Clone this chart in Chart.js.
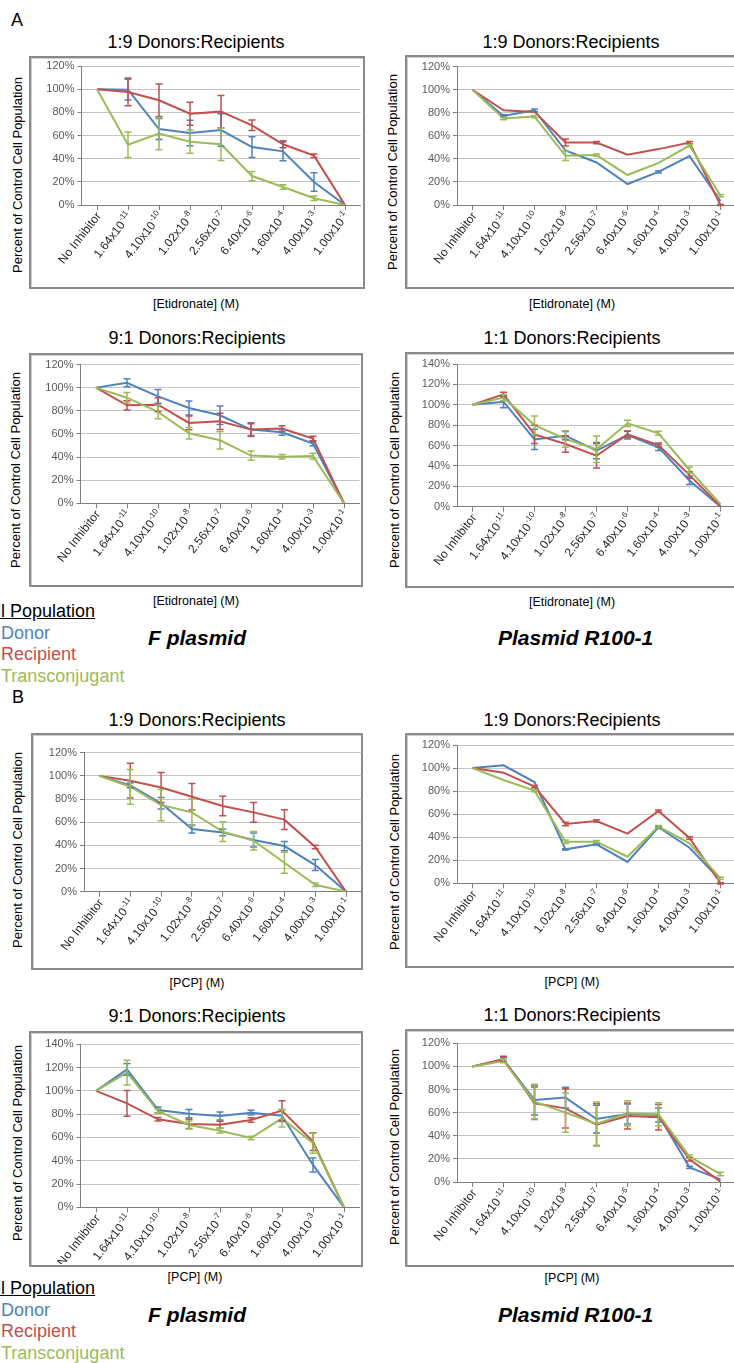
<!DOCTYPE html>
<html>
<head>
<meta charset="utf-8">
<script src="https://cdn.jsdelivr.net/npm/chart.js@4.4.0/dist/chart.umd.min.js"></script>
<style>
  html, body { margin: 0; padding: 0; background: #fff; }
  #fig { position: relative; width: 734px; height: 1363px; overflow: hidden;
         font-family: "Liberation Sans", Arial, sans-serif; color: #000; }
  .t { position: absolute; white-space: nowrap; line-height: 1; }
  .frame { position: absolute; box-sizing: border-box; border: 2px solid #8a8a8a;
           box-shadow: inset 1px 1px 0 #d0d0d0; }
  canvas { position: absolute; }
</style>
</head>
<body>
<div id="fig"></div>
<script>
// Concentration categories (mantissa + power-of-ten exponent)
const concLabels = ['No Inhibitor', '1.64x10', '4.10x10', '1.02x10', '2.56x10', '6.40x10', '1.60x10', '4.00x10', '1.00x10'];
const concExponents = ['', '-11', '-10', '-8', '-7', '-6', '-4', '-3', '-1'];
const seriesNames = ['Donor', 'Recipient', 'Transconjugant'];

// A: Etidronate, F plasmid, 1:9 donors:recipients
const etiF19Donor = [100, 99.6, 65.6, 62.2, 64.7, 50, 46.3, 19.9, 0];
const etiF19DonorErr = [0, 9, 9, 11, 14, 9, 8, 8, 0];
const etiF19Recipient = [100, 97.6, 90.4, 78.8, 80.6, 68.8, 52.4, 42.6, 0];
const etiF19RecipientErr = [0, 12, 14, 10, 14, 4.5, 3, 1.5, 0];
const etiF19Trans = [100, 52.1, 61.6, 54.7, 52.4, 25, 15.5, 5.8, 0];
const etiF19TransErr = [0, 11, 14, 10, 14, 4, 2, 2, 0];

// A: Etidronate, plasmid R100-1, 1:9
const etiR19Donor = [100, 77.3, 82.2, 47.3, 36.9, 18.2, 28.8, 42.4, 3.5];
const etiR19DonorErr = [0, 1, 1, 0, 0, 0, 1, 0, 0];
const etiR19Recipient = [100, 82.2, 80.8, 54.2, 54.2, 43.6, 48.5, 54.2, 0];
const etiR19RecipientErr = [0, 0, 0, 3, 1, 0, 0, 1, 0.5];
const etiR19Trans = [100, 75, 76.7, 42.7, 43.3, 26, 36.6, 51.6, 8.1];
const etiR19TransErr = [0, 1, 1, 4, 1, 0, 0, 1, 1];

// A: Etidronate, F plasmid, 9:1
const etiF91Donor = [100, 104.2, 92.4, 82.4, 76.1, 63.7, 61.4, 51.7, 0];
const etiF91DonorErr = [0, 3.5, 6, 6, 8, 6, 2.5, 2, 0];
const etiF91Recipient = [100, 84.7, 85.3, 69.5, 70.9, 63.7, 64.6, 56, 0];
const etiF91RecipientErr = [0, 4, 6, 6, 7, 5, 2.5, 2, 0];
const etiF91Trans = [100, 91.3, 79, 60.6, 54.5, 41.3, 40.2, 40.8, 0];
const etiF91TransErr = [0, 4.5, 6, 5, 7.5, 4, 2, 2.5, 0];

// A: Etidronate, plasmid R100-1, 1:1
const etiR11Donor = [100, 103, 66, 69.7, 55, 70.3, 58.2, 25.8, 0];
const etiR11DonorErr = [0, 6, 10, 4, 8, 4, 3, 4, 0];
const etiR11Recipient = [100, 110.2, 71, 61.5, 50, 71, 60.5, 31, 0.5];
const etiR11RecipientErr = [0, 2, 9, 8, 12, 3, 2, 3, 0];
const etiR11Trans = [100, 107, 80.1, 66.4, 56.3, 81.8, 72, 36, 2.6];
const etiR11TransErr = [0, 3, 9, 8, 13, 3, 2, 3, 0];

// B: PCP, F plasmid, 1:9
const pcpF19Donor = [100, 91.8, 76.3, 54.1, 51.2, 44.6, 39.4, 23, 0];
const pcpF19DonorErr = [0, 2, 5, 3.5, 3, 6, 4, 4.7, 0];
const pcpF19Recipient = [100, 95.8, 90, 82, 74, 68.5, 62.2, 38.6, 0];
const pcpF19RecipientErr = [0, 15, 13, 11.5, 8.5, 8.5, 8.5, 1.5, 0];
const pcpF19Trans = [100, 90.6, 74.8, 68.5, 51.8, 44, 25, 6, 0];
const pcpF19TransErr = [0, 15, 13.5, 11.5, 8.5, 8, 9, 1.5, 0];

// B: PCP, plasmid R100-1, 1:9
const pcpR19Donor = [100, 102.4, 87.9, 29.5, 33.8, 18.5, 48.6, 30.9, 2.9];
const pcpR19DonorErr = [0, 0, 0, 0.5, 0.5, 0, 1, 0, 0];
const pcpR19Recipient = [100, 96, 83.9, 51.5, 54.1, 43.1, 62.7, 39.3, 0];
const pcpR19RecipientErr = [0, 0, 1, 1.5, 1, 0, 1, 1, 0.5];
const pcpR19Trans = [100, 89.6, 80.4, 36.1, 36.1, 23.1, 49.2, 34.7, 4.3];
const pcpR19TransErr = [0, 0, 1, 1.5, 1, 0, 1, 0, 1];

// B: PCP, F plasmid, 9:1
const pcpF91Donor = [100, 118.5, 83.6, 80.4, 78.4, 81.3, 78.7, 36.4, 0];
const pcpF91DonorErr = [0, 5, 2.5, 3.5, 3.5, 2, 5, 6, 0];
const pcpF91Recipient = [100, 89.3, 75.6, 71.6, 71, 75, 83, 56.4, 0];
const pcpF91RecipientErr = [0, 11, 1.5, 4, 3, 2, 8.5, 7.7, 0];
const pcpF91Trans = [100, 115.7, 82.7, 70.7, 65.8, 59.5, 76.4, 55, 0];
const pcpF91TransErr = [0, 10.7, 2, 3.5, 2, 1.5, 7.5, 8.6, 0];

// B: PCP, plasmid R100-1, 1:1
const pcpR11Donor = [100, 105.6, 71, 73, 54.5, 58.8, 58, 12.7, 2.3];
const pcpR11DonorErr = [0, 2, 13, 9, 12, 8.7, 6, 1, 0];
const pcpR11Recipient = [100, 106.4, 68.1, 63.7, 49.6, 57.1, 56, 19.6, 0.3];
const pcpR11RecipientErr = [0, 2.5, 14, 17, 18, 11.3, 11, 1.5, 0];
const pcpR11Trans = [100, 104.7, 69.5, 60, 50.2, 59.4, 58.6, 21.9, 6.9];
const pcpR11TransErr = [0, 1.5, 15, 17, 19, 11, 10, 1.5, 1.5];

// ---- styling ----
const FONT = '"Liberation Sans", Arial, sans-serif';
const seriesColors = ['#4F81BD', '#C0504D', '#9BBB59'];

// ---- panel layout: frame box, plot area, text anchors ----
const panels = [
  { series: [etiF19Donor, etiF19Recipient, etiF19Trans], errors: [etiF19DonorErr, etiF19RecipientErr, etiF19TransErr],
    yMax: 120, title: '1:9 Donors:Recipients', xTitle: '[Etidronate] (M)',
    frame: [29, 56, 365, 289], plot: [81.5, 66, 360.5, 205], titleAt: [196, 42], yTitleAt: [17, 175], xTitleAt: [196, 304] },
  { series: [etiR19Donor, etiR19Recipient, etiR19Trans], errors: [etiR19DonorErr, etiR19RecipientErr, etiR19TransErr],
    yMax: 120, title: '1:9 Donors:Recipients', xTitle: '[Etidronate] (M)',
    frame: [405, 55, 760, 289], plot: [457, 66.7, 736, 205], titleAt: [571, 42], yTitleAt: [392, 172], xTitleAt: [572, 304] },
  { series: [etiF91Donor, etiF91Recipient, etiF91Trans], errors: [etiF91DonorErr, etiF91RecipientErr, etiF91TransErr],
    yMax: 120, title: '9:1 Donors:Recipients', xTitle: '[Etidronate] (M)',
    frame: [29, 353, 363, 587], plot: [80.5, 364.5, 359.5, 503.3], titleAt: [197, 338], yTitleAt: [15, 470], xTitleAt: [196, 601] },
  { series: [etiR11Donor, etiR11Recipient, etiR11Trans], errors: [etiR11DonorErr, etiR11RecipientErr, etiR11TransErr],
    yMax: 140, title: '1:1 Donors:Recipients', xTitle: '[Etidronate] (M)',
    frame: [405, 352, 760, 588], plot: [457, 364, 736, 506.7], titleAt: [572, 338], yTitleAt: [394, 470], xTitleAt: [572, 602] },
  { series: [pcpF19Donor, pcpF19Recipient, pcpF19Trans], errors: [pcpF19DonorErr, pcpF19RecipientErr, pcpF19TransErr],
    yMax: 120, title: '1:9 Donors:Recipients', xTitle: '[PCP] (M)',
    frame: [31, 733, 363, 970], plot: [84, 752.7, 361.5, 891.7], titleAt: [197, 720], yTitleAt: [17, 850], xTitleAt: [197, 983] },
  { series: [pcpR19Donor, pcpR19Recipient, pcpR19Trans], errors: [pcpR19DonorErr, pcpR19RecipientErr, pcpR19TransErr],
    yMax: 120, title: '1:9 Donors:Recipients', xTitle: '[PCP] (M)',
    frame: [405, 733, 760, 968], plot: [457, 745, 736, 883.3], titleAt: [572, 720], yTitleAt: [394, 852], xTitleAt: [572, 982] },
  { series: [pcpF91Donor, pcpF91Recipient, pcpF91Trans], errors: [pcpF91DonorErr, pcpF91RecipientErr, pcpF91TransErr],
    yMax: 140, title: '9:1 Donors:Recipients', xTitle: '[PCP] (M)',
    frame: [29, 1031, 363, 1267], plot: [80.5, 1044.3, 359.5, 1207.3], titleAt: [197, 1016], yTitleAt: [17, 1143], xTitleAt: [195, 1277] },
  { series: [pcpR11Donor, pcpR11Recipient, pcpR11Trans], errors: [pcpR11DonorErr, pcpR11RecipientErr, pcpR11TransErr],
    yMax: 120, title: '1:1 Donors:Recipients', xTitle: '[PCP] (M)',
    frame: [405, 1029, 760, 1267], plot: [457, 1043.3, 736, 1182], titleAt: [572, 1015], yTitleAt: [394, 1147], xTitleAt: [572, 1278] }
];

const fig = document.getElementById('fig');

function addText(txt, x, y, css, anchor) {
  const d = document.createElement('div');
  d.className = 't';
  d.textContent = txt;
  d.style.left = x + 'px';
  d.style.top = y + 'px';
  d.style.transform = anchor || 'translate(-50%, -50%)';
  Object.assign(d.style, css || {});
  fig.appendChild(d);
  return d;
}

// Vertical error bars with caps, drawn from each dataset's `errors` list
const errorBarPlugin = {
  id: 'errorBars',
  afterDatasetsDraw(chart) {
    const { ctx } = chart;
    const yScale = chart.scales.y;
    chart.data.datasets.forEach((ds, i) => {
      const meta = chart.getDatasetMeta(i);
      if (!ds.errors) return;
      ctx.save();
      ctx.strokeStyle = ds.borderColor;
      ctx.lineWidth = 1.5;
      meta.data.forEach((pt, j) => {
        const e = ds.errors[j];
        if (!e) return;
        const v = ds.data[j];
        const yTop = yScale.getPixelForValue(v + e);
        const yBot = yScale.getPixelForValue(v - e);
        const x = pt.x;
        ctx.beginPath();
        ctx.moveTo(x, yTop); ctx.lineTo(x, yBot);
        ctx.moveTo(x - 3.5, yTop); ctx.lineTo(x + 3.5, yTop);
        ctx.moveTo(x - 3.5, yBot); ctx.lineTo(x + 3.5, yBot);
        ctx.stroke();
      });
      ctx.restore();
    });
  }
};

// Slanted category labels with a raised exponent (e.g. 1.64x10^-11)
const concLabelPlugin = {
  id: 'concLabels',
  afterDraw(chart) {
    const { ctx } = chart;
    const xs = chart.scales.x;
    const ang = -52 * Math.PI / 180;
    ctx.save();
    ctx.fillStyle = '#262626';
    ctx.textBaseline = 'middle';
    chart.data.labels.forEach((lab, i) => {
      const base = concLabels[i];
      const sup = concExponents[i];
      ctx.font = '12px ' + FONT;
      const wb = ctx.measureText(base).width;
      ctx.font = '8px ' + FONT;
      const ws = sup ? ctx.measureText(sup).width + 0.5 : 0;
      const x = xs.getPixelForTick(i) + 2;
      const y = xs.top + 9;
      ctx.save();
      ctx.translate(x, y);
      ctx.rotate(ang);
      ctx.textAlign = 'left';
      ctx.font = '12px ' + FONT;
      ctx.fillText(base, -(wb + ws), 0);
      if (sup) {
        ctx.font = '8px ' + FONT;
        ctx.fillText(sup, -ws + 0.5, -4);
      }
      ctx.restore();
    });
    ctx.restore();
  }
};

panels.forEach(p => {
  const [fl, ft, fr, fb] = p.frame;
  const [pl, pt, pr, pb] = p.plot;

  const box = document.createElement('div');
  box.className = 'frame';
  Object.assign(box.style, { left: fl + 'px', top: ft + 'px', width: (fr - fl) + 'px', height: (fb - ft) + 'px' });
  fig.appendChild(box);

  addText(p.title, p.titleAt[0], p.titleAt[1], { fontSize: '18px' });
  addText('Percent of Control Cell Population', p.yTitleAt[0], p.yTitleAt[1], { fontSize: '13px' },
          'translate(-50%, -50%) rotate(-90deg)');
  addText(p.xTitle, p.xTitleAt[0], p.xTitleAt[1], { fontSize: '12.5px' });

  const cl = fl + 2, ct = Math.floor(pt - 10);
  const cr = Math.ceil(pr + 2), cb = fb - 3;
  const cv = document.createElement('canvas');
  cv.width = cr - cl; cv.height = cb - ct;
  cv.style.left = cl + 'px'; cv.style.top = ct + 'px';
  cv.style.width = (cr - cl) + 'px'; cv.style.height = (cb - ct) + 'px';
  fig.appendChild(cv);

  const datasets = p.series.map((vals, k) => ({
    label: seriesNames[k],
    data: vals,
    errors: p.errors[k],
    borderColor: seriesColors[k],
    backgroundColor: seriesColors[k],
    borderWidth: 2,
    pointRadius: 0,
    tension: 0,
    order: 2 - k
  }));

  new Chart(cv, {
    type: 'line',
    data: { labels: concLabels.map((b, i) => b + (concExponents[i] ? '^' + concExponents[i] : '')), datasets },
    plugins: [errorBarPlugin, concLabelPlugin],
    options: {
      responsive: false,
      animation: false,
      devicePixelRatio: 1,
      events: [],
      layout: { padding: { top: pt - ct, right: cr - pr, left: 0, bottom: 0 } },
      plugins: { legend: { display: false }, tooltip: { enabled: false }, title: { display: false } },
      scales: {
        x: {
          type: 'category',
          offset: true,
          grid: { display: true, drawOnChartArea: false, drawTicks: true, tickLength: 5, offset: false, color: '#7f7f7f' },
          border: { display: true, color: '#7f7f7f', width: 1 },
          ticks: { display: false },
          afterFit: s => { s.height = cb - pb; }
        },
        y: {
          min: 0, max: p.yMax,
          grid: { color: '#c4c4c4', tickColor: '#7f7f7f', tickLength: 4, lineWidth: 1 },
          border: { display: true, color: '#7f7f7f', width: 1 },
          ticks: { stepSize: 20, padding: 3, color: '#595959', font: { family: FONT, size: 11 },
                   callback: v => v + '%' },
          afterFit: s => { s.width = pl - cl; }
        }
      }
    }
  });
});

// Panel letters
addText('A', 17, 20, { fontSize: '18px' });
addText('B', 18, 697, { fontSize: '18px' });

// Population keys and plasmid captions
function legendBlock(y0) {
  addText('Cell Population', -26, y0, { fontSize: '18px', textDecoration: 'underline' }, 'translate(0, -50%)');
  addText('Donor', 1, y0 + 22, { fontSize: '18px', color: seriesColors[0] }, 'translate(0, -50%)');
  addText('Recipient', 1, y0 + 43, { fontSize: '18px', color: seriesColors[1] }, 'translate(0, -50%)');
  addText('Transconjugant', 1, y0 + 65, { fontSize: '18px', color: seriesColors[2] }, 'translate(0, -50%)');
  addText('F plasmid', 148, y0 + 26, { fontSize: '21px', fontWeight: 'bold', fontStyle: 'italic' }, 'translate(0, -50%)');
  addText('Plasmid R100-1', 498, y0 + 26, { fontSize: '21px', fontWeight: 'bold', fontStyle: 'italic' }, 'translate(0, -50%)');
}
legendBlock(611);
legendBlock(1288);
</script>
</body>
</html>
